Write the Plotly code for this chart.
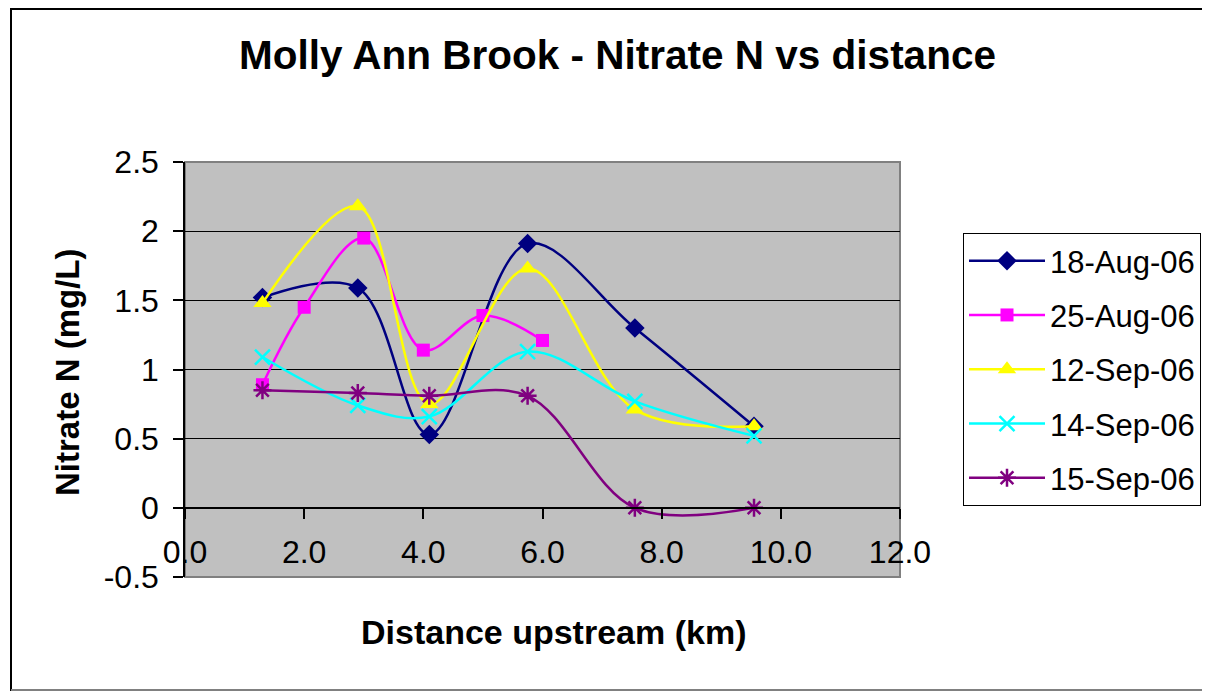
import plotly.graph_objects as go

# ---- data ----
series_names = ["18-Aug-06", "25-Aug-06", "12-Sep-06", "14-Sep-06", "15-Sep-06"]
x_common = [1.3, 2.9, 4.1, 5.75, 7.55, 9.55]
x_aug25 = [1.3, 2.0, 3.0, 4.0, 5.0, 6.0]
y_aug18 = [1.52, 1.59, 0.53, 1.91, 1.30, 0.59]
y_aug25 = [0.89, 1.45, 1.95, 1.14, 1.39, 1.21]
y_sep12 = [1.48, 2.18, 0.75, 1.73, 0.71, 0.59]
y_sep14 = [1.09, 0.74, 0.66, 1.13, 0.77, 0.52]
y_sep15 = [0.85, 0.83, 0.81, 0.81, 0.0, 0.0]

x_tick_vals = [0, 2, 4, 6, 8, 10, 12]
x_tick_text = ["0.0", "2.0", "4.0", "6.0", "8.0", "10.0", "12.0"]
y_tick_vals = [-0.5, 0, 0.5, 1, 1.5, 2, 2.5]
y_tick_text = ["-0.5", "0", "0.5", "1", "1.5", "2", "2.5"]

# ---- layout geometry (pixels of the page; the page body has an 8px margin) ----
OFF = 8
W, H = 1210 - OFF, 691 - OFF
L, R, T, B = 185 - OFF, 900 - OFF, 162 - OFF, 577 - OFF
FONT = "Liberation Sans, Arial, sans-serif"


def px_x(p):
    return (p - OFF - L) / (R - L)


def px_y(p):
    return (B - (p - OFF)) / (B - T)


styles = [
    dict(color="#000080", symbol="diamond", size=15, lw=0),
    dict(color="#FF00FF", symbol="square", size=13, lw=0),
    dict(color="#FFFF00", symbol="triangle-up", size=16, lw=0),
    dict(color="#00FFFF", symbol="x-thin-open", size=15, lw=2.5),
    dict(color="#800080", symbol="asterisk-open", size=15, lw=2.5),
]
xs = [x_common, x_aug25, x_common, x_common, x_common]
ys = [y_aug18, y_aug25, y_sep12, y_sep14, y_sep15]

fig = go.Figure()
for i, (name, xv, yv, st) in enumerate(zip(series_names, xs, ys, styles)):
    marker = dict(color=st["color"], symbol=st["symbol"], size=st["size"])
    if st["lw"]:
        marker["line"] = dict(color=st["color"], width=st["lw"])
    else:
        marker["line"] = dict(width=0)
    fig.add_trace(go.Scatter(
        x=xv, y=yv, name=name, mode="lines+markers",
        line=dict(color=st["color"], width=2.5, shape="spline", smoothing=1.0),
        marker=marker, legendgroup=f"g{i}", cliponaxis=False,
    ))

fig.update_layout(
    width=W, height=H,
    margin=dict(l=L, r=W - R, t=T, b=H - B, pad=0, autoexpand=False),
    paper_bgcolor="white",
    plot_bgcolor="#C0C0C0",
    font=dict(family=FONT, size=31, color="black"),
    title=dict(text="<b>Molly Ann Brook - Nitrate N vs distance</b>",
               font=dict(family=FONT, size=40.5, color="black"),
               x=(617.5 - OFF) / W, xanchor="center", xref="container",
               y=1 - (55 - OFF) / H, yanchor="middle", yref="container"),
    showlegend=True,
    legend=dict(x=px_x(963), y=px_y(233), xanchor="left", yanchor="top",
                bgcolor="white", bordercolor="black", borderwidth=1,
                font=dict(family=FONT, size=31, color="black"),
                tracegroupgap=11, itemwidth=76),
    xaxis=dict(range=[0, 12], tickvals=x_tick_vals, ticktext=x_tick_text,
               anchor="free", position=1 / 6, showgrid=False, zeroline=False,
               showline=True, linecolor="black", linewidth=1.5,
               ticks="outside", ticklen=10, tickcolor="black", tickwidth=1.5,
               ticklabelstandoff=6, tickfont=dict(size=32)),
    yaxis=dict(range=[-0.5, 2.5], tickvals=y_tick_vals, ticktext=y_tick_text,
               showgrid=True, gridcolor="black", gridwidth=1, zeroline=False,
               showline=True, linecolor="black", linewidth=1.5,
               ticks="outside", ticklen=10, tickcolor="black", tickwidth=1.5,
               ticklabelstandoff=8, tickfont=dict(size=32)),
    shapes=[
        dict(type="rect", xref="paper", yref="paper", x0=0, x1=1, y0=0, y1=1,
             line=dict(color="#808080", width=2), layer="below"),
        dict(type="rect", xref="paper", yref="paper",
             x0=px_x(11), x1=px_x(1216), y0=px_y(690), y1=px_y(9),
             line=dict(color="black", width=2), layer="below"),
        dict(type="line", xref="paper", yref="paper",
             x0=px_x(11), x1=px_x(1216), y0=px_y(690), y1=px_y(690),
             line=dict(color="#808080", width=2), layer="below"),
    ],
    annotations=[
        dict(text="<b>Nitrate N (mg/L)</b>", xref="paper", yref="paper",
             x=px_x(67), y=px_y(372), xanchor="center", yanchor="middle",
             textangle=-90, showarrow=False, font=dict(family=FONT, size=33)),
        dict(text="<b>Distance upstream (km)</b>", xref="paper", yref="paper",
             x=px_x(553), y=px_y(632), xanchor="center", yanchor="middle",
             showarrow=False, font=dict(family=FONT, size=34)),
    ],
)

fig.write_html("out.html")
